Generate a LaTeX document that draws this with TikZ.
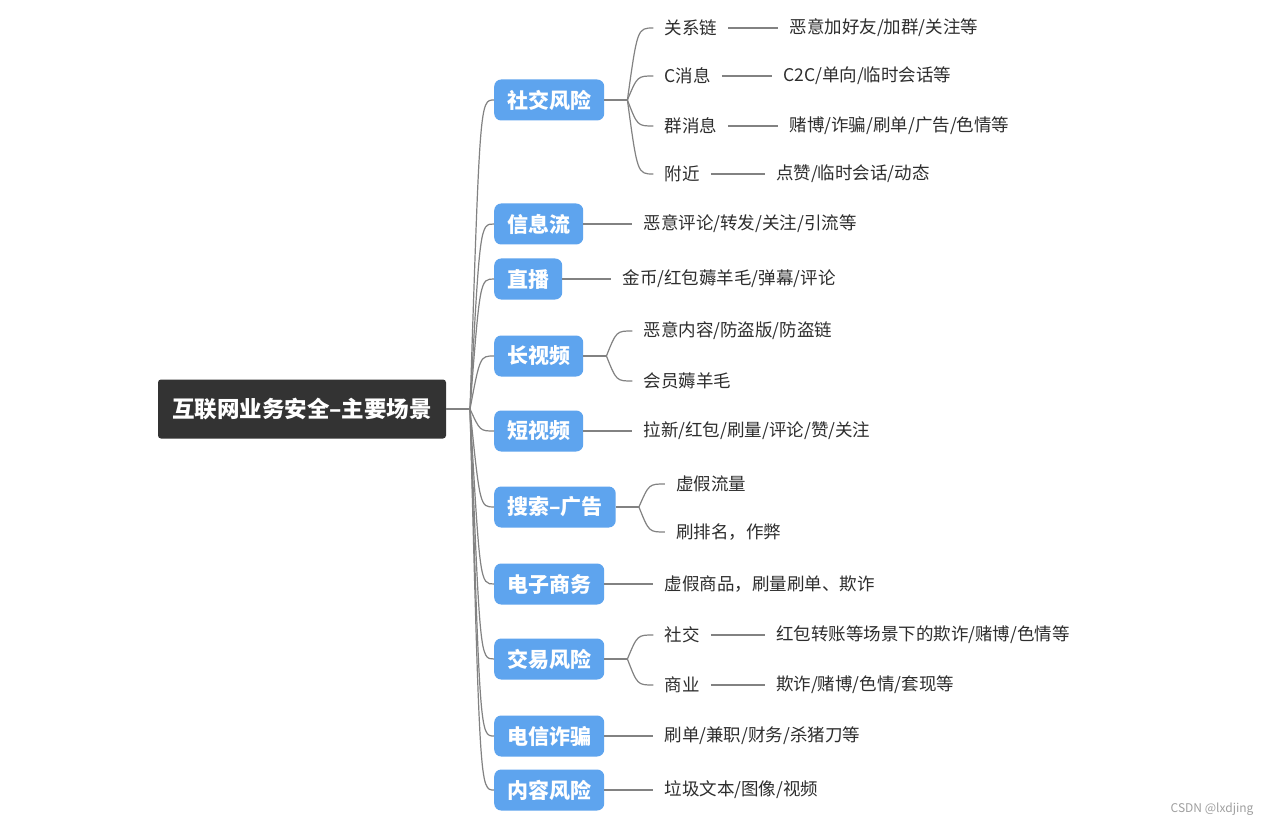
\documentclass[tikz,border=0pt]{standalone}
\usepackage{fontspec}
\setmainfont{Noto Sans CJK SC}
\usetikzlibrary{calc}
\definecolor{topicblue}{RGB}{94,164,238}
\definecolor{rootgray}{RGB}{51,51,51}
\definecolor{linegray}{RGB}{130,130,130}
\definecolor{leaftext}{RGB}{45,45,45}
\tikzset{
	root/.style={fill=rootgray, text=white, rounded corners=3pt, font=\bfseries\fontsize{22.5}{26}\selectfont, minimum height=59pt, minimum width=288pt, inner xsep=14pt},
	topic/.style={anchor=west, fill=topicblue, text=white, rounded corners=7pt, font=\bfseries\fontsize{21}{24}\selectfont, minimum height=41pt, inner xsep=13pt},
	leaf/.style={anchor=west, text=leaftext, font=\fontsize{17.5}{20}\selectfont, inner xsep=11pt, inner ysep=2pt},
	link/.style={draw=linegray, line width=1.2pt},
}
\newcommand{\branch}[2]{\draw[link] (#1) .. controls ($(#1 |- #2.west)+(10,0)$) .. (#2.west);}

\begin{document}
\begin{tikzpicture}[x=1pt, y=-1pt]
	\useasboundingbox[fill=white] (0,0) rectangle (1271,826);
	\node[root] (root) at (302,409) {互联网业务安全–主要场景};
	\coordinate (s0) at (470,409);
	\draw[link] (root.east) -- (s0);

	\node[topic] (social) at (494,100) {社交风险};
	\node[topic] (feed) at (494,224) {信息流};
	\node[topic] (live) at (494,279) {直播};
	\node[topic] (longv) at (494,356) {长视频};
	\node[topic] (shortv) at (494,431) {短视频};
	\node[topic] (search) at (494,507) {搜索–广告};
	\node[topic] (shop) at (494,584) {电子商务};
	\node[topic] (trade) at (494,659) {交易风险};
	\node[topic] (tele) at (494,736) {电信诈骗};
	\node[topic] (content) at (494,790) {内容风险};
	\foreach \t in {social,feed,live,longv,shortv,search,shop,trade,tele,content}
		\branch{s0}{\t};

	\coordinate (s1) at ($(social.east)+(23,0)$);
	\draw[link] (social) -- (s1);
	\node[leaf] (rel) at ($(social.east)+(49,-72)$) {关系链};
	\node[leaf] (cmsg) at ($(social.east)+(49,-24)$) {C消息};
	\node[leaf] (gmsg) at ($(social.east)+(49,26)$) {群消息};
	\node[leaf] (near) at ($(social.east)+(49,74)$) {附近};
	\foreach \t in {rel,cmsg,gmsg,near}
		\branch{s1}{\t};
	\node[leaf] (relB) at ($(rel.east)+(50,0)$) {恶意加好友/加群/关注等};
	\node[leaf] (cmsgB) at ($(cmsg.east)+(50,0)$) {C2C/单向/临时会话等};
	\node[leaf] (gmsgB) at ($(gmsg.east)+(50,0)$) {赌博/诈骗/刷单/广告/色情等};
	\node[leaf] (nearB) at ($(near.east)+(54,0)$) {点赞/临时会话/动态};
	\draw[link] (rel) -- (relB);
	\draw[link] (cmsg) -- (cmsgB);
	\draw[link] (gmsg) -- (gmsgB);
	\draw[link] (near) -- (nearB);

	\node[leaf] (feedA) at ($(feed.east)+(49,0)$) {恶意评论/转发/关注/引流等};
	\draw[link] (feed) -- (feedA);
	\node[leaf] (liveA) at ($(live.east)+(49,0)$) {金币/红包薅羊毛/弹幕/评论};
	\draw[link] (live) -- (liveA);

	\coordinate (s4) at ($(longv.east)+(23,0)$);
	\draw[link] (longv) -- (s4);
	\node[leaf] (longA) at ($(longv.east)+(49,-25)$) {恶意内容/防盗版/防盗链};
	\node[leaf] (longB) at ($(longv.east)+(49,25)$) {会员薅羊毛};
	\branch{s4}{longA}
	\branch{s4}{longB}

	\node[leaf] (shortA) at ($(shortv.east)+(49,0)$) {拉新/红包/刷量/评论/赞/关注};
	\draw[link] (shortv) -- (shortA);

	\coordinate (s6) at ($(search.east)+(23,0)$);
	\draw[link] (search) -- (s6);
	\node[leaf] (fake) at ($(search.east)+(49,-23)$) {虚假流量};
	\node[leaf] (rank) at ($(search.east)+(49,25)$) {刷排名，作弊};
	\branch{s6}{fake}
	\branch{s6}{rank}

	\node[leaf] (shopA) at ($(shop.east)+(49,0)$) {虚假商品，刷量刷单、欺诈};
	\draw[link] (shop) -- (shopA);

	\coordinate (s8) at ($(trade.east)+(23,0)$);
	\draw[link] (trade) -- (s8);
	\node[leaf] (tsoc) at ($(trade.east)+(49,-24)$) {社交};
	\node[leaf] (tbiz) at ($(trade.east)+(49,26)$) {商业};
	\branch{s8}{tsoc}
	\branch{s8}{tbiz}
	\node[leaf] (tsocB) at ($(tsoc.east)+(54,0)$) {红包转账等场景下的欺诈/赌博/色情等};
	\node[leaf] (tbizB) at ($(tbiz.east)+(54,0)$) {欺诈/赌博/色情/套现等};
	\draw[link] (tsoc) -- (tsocB);
	\draw[link] (tbiz) -- (tbizB);

	\node[leaf] (teleA) at ($(tele.east)+(49,0)$) {刷单/兼职/财务/杀猪刀等};
	\draw[link] (tele) -- (teleA);
	\node[leaf] (contentA) at ($(content.east)+(49,0)$) {垃圾文本/图像/视频};
	\draw[link] (content) -- (contentA);

	\node[anchor=east, text=gray!75, font=\fontsize{12}{14}\selectfont] (mark) at (1257,809) {CSDN @lxdjing};
\end{tikzpicture}
\end{document}
